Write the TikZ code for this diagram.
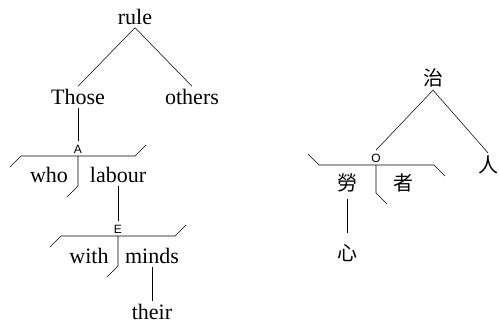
\documentclass[tikz,border=0pt]{standalone}
\usepackage{fontspec}
\setmainfont{Liberation Serif}
\newfontfamily\cjk{Noto Sans CJK TC}
\newfontfamily\lbl{Liberation Sans}
\usetikzlibrary{positioning}

\begin{document}
\begin{tikzpicture}[x=0.75pt, y=-0.75pt,
    word/.style = {inner sep=2pt, font=\fontsize{16.5}{18}\selectfont},
    hanzi/.style = {inner sep=2pt, font=\cjk\fontsize{15}{17}\selectfont},
    tag/.style = {inner sep=2.5pt, font=\lbl\fontsize{9}{10}\selectfont}]
    \useasboundingbox (0,0) rectangle (499,324);

    % Nodes (left)
    \node[word] (rule) at (135,17) {rule};
    \node[word] (those) at (78,97) {Those};
    \node[word] (others) at (192,97) {others};
    \node[word] (who) at (49,175) {who};
    \node[word] (labour) at (118,175) {labour};
    \node[word] (with) at (89,256) {with};
    \node[word] (minds) at (152,256) {minds};
    \node[word] (their) at (152,312) {their};
    \node[tag] (A) at (78,149) {A};
    \node[tag] (E) at (118,229) {E};
    \coordinate (barA) at (78,156);
    \coordinate (barE) at (118,236);

    % Nodes (right)
    \node[hanzi] (zhi) at (433,78) {治};
    \node[hanzi] (ren) at (488,165) {人};
    \node[hanzi] (lao) at (347,183) {勞};
    \node[hanzi] (zhe) at (403,183) {者};
    \node[hanzi] (xin) at (347,253) {心};
    \node[tag] (O) at (376,158) {O};
    \coordinate (barO) at (376,165);

    % Lines
    \draw (rule.south) -- (those.north);
    \draw (rule.south) -- (others.north);
    \draw (those.south) -- (A.north);
    \draw (labour.south) -- (E.north);
    \draw (minds.south) -- (their.north);
    \draw (zhi.south) -- (O.north);
    \draw (zhi.south) -- (ren.north);
    \draw[shorten <=3pt, shorten >=6pt] (lao.south) -- (xin.north);

    % Bars
    \draw ([shift={(-68,11)}]barA) -- ++(11,-11) -- ++(114,0) -- ++(11,-11);
    \draw (barA) -- ++(0,30) -- ++(-11,11);
    \draw ([shift={(-68,11)}]barE) -- ++(11,-11) -- ++(114,0) -- ++(11,-11);
    \draw (barE) -- ++(0,30) -- ++(-11,11);
    \draw ([shift={(-68,-11)}]barO) -- ++(11,11) -- ++(115,0) -- ++(11,11);
    \draw (barO) -- ++(0,28) -- ++(11,11);
\end{tikzpicture}
\end{document}
